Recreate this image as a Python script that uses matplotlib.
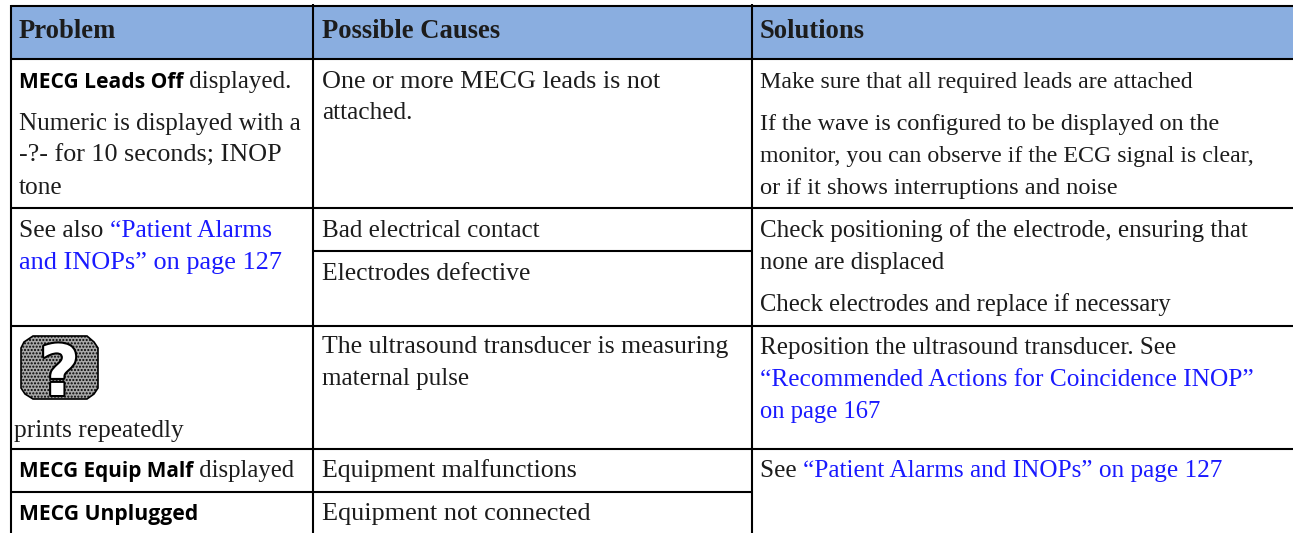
import matplotlib
matplotlib.use("Agg")
import matplotlib.pyplot as plt
from matplotlib.patches import Rectangle, Polygon
import matplotlib.patheffects as pe

W, H = 1293, 533
SERIF = "Liberation Serif"
SANS = "Open Sans"
BODY = 17.9
SANS_SIZE = 15
INK = "#1c1c1c"
LINK = "#1a1aff"
HEAD = "#8aaee0"

headers = ["Problem", "Possible Causes", "Solutions"]
text_x = [19, 322, 760]

# run kinds: t = body, s = sans bold, l = link
cells = [
    (19, 88, [("s", "MECG Leads Off"), ("t", " displayed.")]),
    (19, 130, [("t", "Numeric is displayed with a")]),
    (19, 162, [("t", "-?- for 10 seconds; INOP")]),
    (19, 194, [("t", "tone")]),
    (19, 237, [("t", "See also "), ("l", "\u201cPatient Alarms")]),
    (19, 269, [("l", "and INOPs\u201d on page 127")]),
    (14, 437, [("t", "prints repeatedly")]),
    (19, 477, [("s", "MECG Equip Malf"), ("t", " displayed")]),
    (19, 520, [("s", "MECG Unplugged")]),
    (322, 88, [("t", "One or more MECG leads is not")]),
    (322, 119, [("t", "attached.")]),
    (322, 237, [("t", "Bad electrical contact")]),
    (322, 280, [("t", "Electrodes defective")]),
    (322, 353, [("t", "The ultrasound transducer is measuring")]),
    (322, 385, [("t", "maternal pulse")]),
    (322, 477, [("t", "Equipment malfunctions")]),
    (322, 520, [("t", "Equipment not connected")]),
    (760, 88, [("t", "Make sure that all required leads are attached")]),
    (760, 130, [("t", "If the wave is configured to be displayed on the")]),
    (760, 162, [("t", "monitor, you can observe if the ECG signal is clear,")]),
    (760, 194, [("t", "or if it shows interruptions and noise")]),
    (760, 237, [("t", "Check positioning of the electrode, ensuring that")]),
    (760, 269, [("t", "none are displaced")]),
    (760, 311, [("t", "Check electrodes and replace if necessary")]),
    (760, 354, [("t", "Reposition the ultrasound transducer. See")]),
    (760, 386, [("l", "\u201cRecommended Actions for Coincidence INOP\u201d")]),
    (760, 418, [("l", "on page 167")]),
    (760, 477, [("t", "See "), ("l", "\u201cPatient Alarms and INOPs\u201d on page 127")]),
]

# right end of each line above
line_ends = [292, 302, 282, 63, 272, 282, 185, 295, 198,
             662, 413, 541, 531, 729, 470, 578, 592,
             1195, 1222, 1255, 1118, 1248, 945, 1172, 1177, 1256, 881, 1223]

# horizontal rules: y, x start, x end
rules = [(6, 11, W), (59, 11, W), (208, 11, W), (251, 313, 752),
         (326, 11, W), (449, 11, W), (492, 11, 752)]

fig = plt.figure(figsize=(W / 100, H / 100), dpi=100, facecolor="white")
ax = fig.add_axes([0, 0, 1, 1])
ax.set_xlim(0, W)
ax.set_ylim(H, 0)
ax.axis("off")

ax.add_patch(Rectangle((11, 6), W - 11, 53, facecolor=HEAD, edgecolor="none"))
for y, x0, x1 in rules:
    ax.plot([x0, x1], [y, y], color="black", lw=1.5, solid_capstyle="butt")
ax.plot([11, 11], [5, H], color="black", lw=1.5, solid_capstyle="butt")
ax.plot([313, 313], [4, H], color="black", lw=1.5, solid_capstyle="butt")
ax.plot([752, 752], [4, H], color="black", lw=1.5, solid_capstyle="butt")


def style(kind, scale=1.0):
    if kind == "s":
        return dict(family=SANS, fontsize=SANS_SIZE * scale, fontweight="bold", color="black")
    return dict(family=SERIF, fontsize=BODY * scale, color=LINK if kind == "l" else INK)


for x, name in zip(text_x, headers):
    ax.text(x, 38, name, family=SERIF, fontsize=19.2, fontweight="bold",
            color=INK, va="baseline", ha="left")

fig.canvas.draw()
rend = fig.canvas.get_renderer()


def advance(kind, s, scale=1.0):
    st = style(kind, scale)
    probe = ax.text(0, 0, "x" + s + "x", **st)
    px = ax.text(0, 0, "xx", **st)
    w = probe.get_window_extent(rend).width - px.get_window_extent(rend).width
    probe.remove()
    px.remove()
    return w


for (x, y, runs), end in zip(cells, line_ends):
    total = sum(advance(k, s) for k, s in runs)
    scale = min(1.1, max(0.9, (end - x) / total))
    cx = x
    for kind, s in runs:
        ax.text(cx, y, s, va="baseline", ha="left", **style(kind, scale))
        cx += advance(kind, s, scale)

# warning icon
icon = [(33, 336), (24, 342), (21, 348), (21, 388), (25, 394), (33, 399),
        (87, 399), (94, 394), (98, 388), (98, 348), (94, 342), (87, 336)]
ax.add_patch(Polygon(icon, closed=True, facecolor="#a8a8a8", edgecolor="black",
                     lw=1.2, hatch=".....", zorder=3))
ax.text(59.5, 395, "?", family="DejaVu Sans", fontweight="bold", fontsize=50,
        color="white", ha="center", va="baseline", zorder=4,
        path_effects=[pe.withStroke(linewidth=3, foreground="black")])

fig.savefig("out.png", dpi=100, facecolor="white")
